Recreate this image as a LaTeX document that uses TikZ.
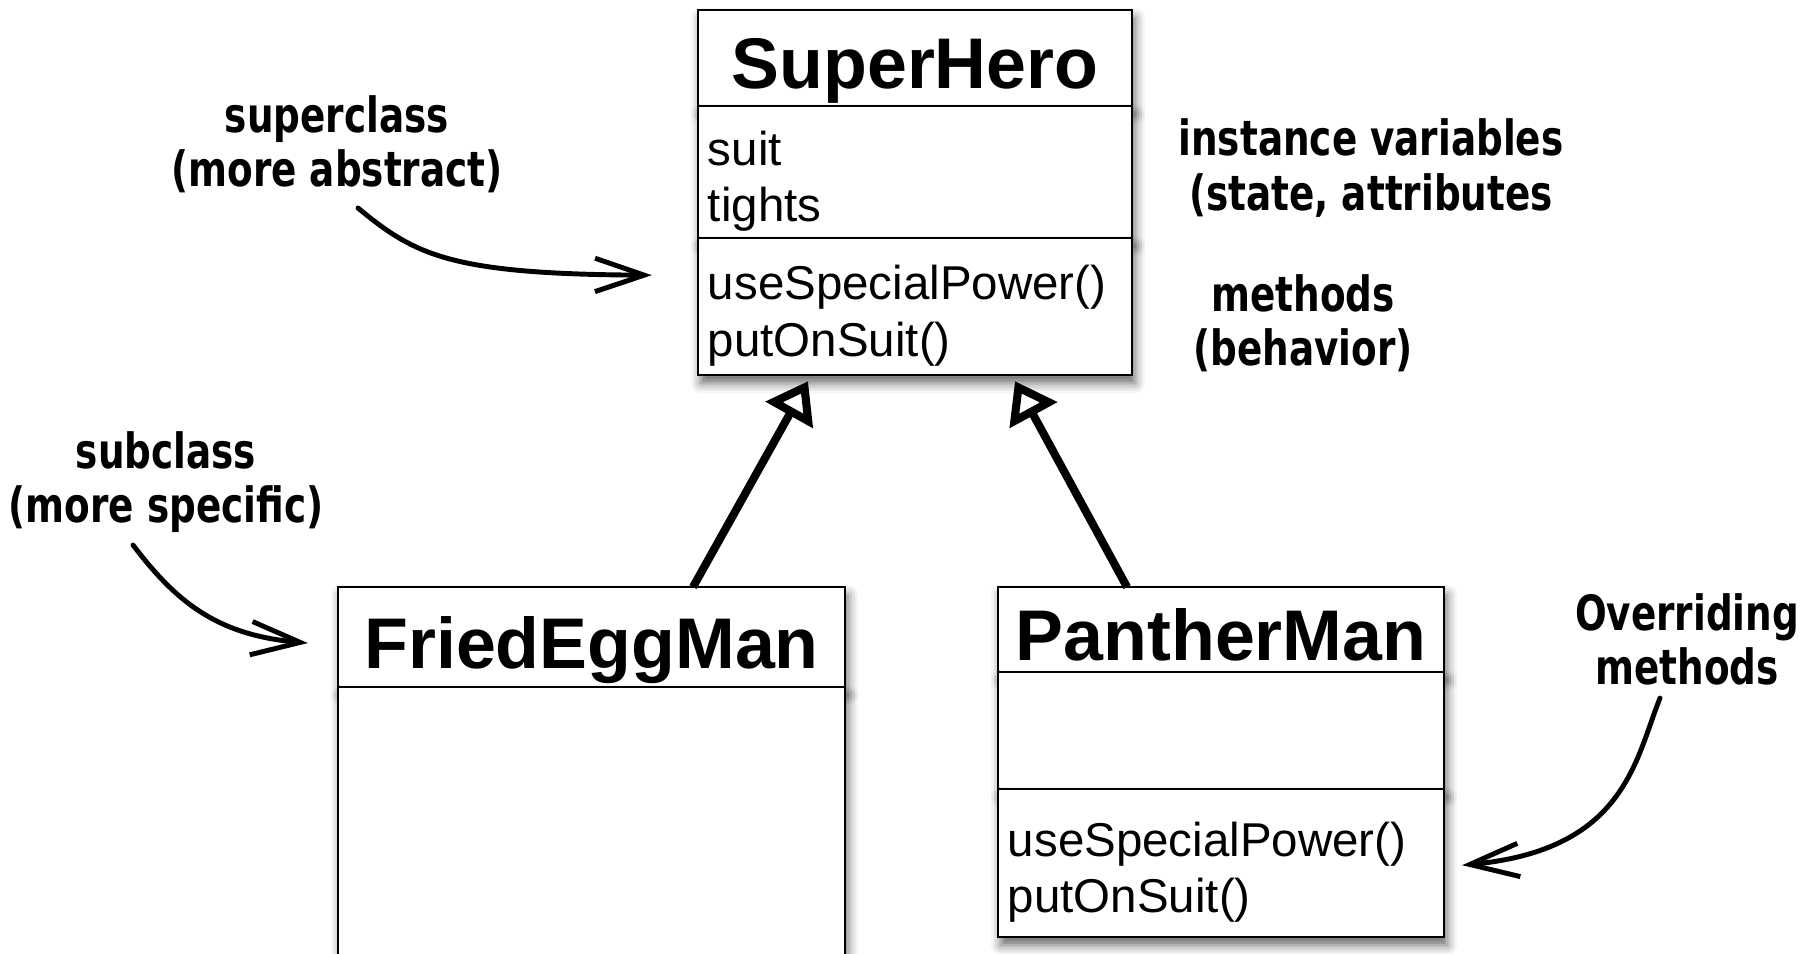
\documentclass[tikz,border=0pt]{standalone}
\usepackage{fontspec}
\usepackage{tikz}
\usetikzlibrary{arrows.meta,positioning,calc,shadows.blur}
\newfontfamily\umlfont{Liberation Sans}
\newfontfamily\handfont{DejaVu Sans}[FakeStretch=0.77]
\tikzset{
    % UML compartment
    classbox/.style={
        draw=black,
        fill=white,
        line width=0.6pt,
        inner sep=0pt,
        outer sep=0pt,
        blur shadow={shadow xshift=0.03cm, shadow yshift=-0.08cm,
            shadow blur radius=0.1cm, shadow opacity=60}
    },
    % Class name compartment
    classname/.style={
        classbox,
        align=center,
        text height=19pt,
        text depth=1.4pt,
        font=\umlfont\bfseries\fontsize{20.4}{24}\selectfont
    },
    % Attribute / operation compartment
    memberbox/.style={
        classbox,
        align=left,
        inner xsep=0.1cm,
        execute at begin node={\rule{0pt}{15pt}},
        font=\umlfont\fontsize{13.5}{16.1}\selectfont
    },
    % Handwritten remark
    remark/.style={
        align=center,
        inner sep=0pt,
        font=\handfont\bfseries\fontsize{13.8}{15.4}\selectfont
    },
    % Generalisation arrow
    inherit/.style={
        -{Triangle[fill=white, length=11pt, width=15pt]},
        line width=2.3pt,
        draw=black
    },
    % Remark arrow
    remarkarrow/.style={
        -{Straight Barb[length=14pt, width=9.5pt]},
        line width=1.4pt,
        line cap=round,
        draw=black
    }
}
\begin{document}
\begin{tikzpicture}[x=0.01cm, y=0.01cm]
    \useasboundingbox (0,0) rectangle (1816,-953);
    \clip (0,0) rectangle (1816,-953);

    % superclass
    \node[classname, anchor=north, minimum width=4.34cm, minimum height=0.96cm] (heroTitle) at (915,-10) {SuperHero};
    \node[memberbox, below=0pt of heroTitle, text width=4.14cm, minimum height=1.32cm] (heroAttr) {suit\\tights};
    \node[memberbox, below=0pt of heroAttr, text width=4.14cm, minimum height=1.37cm] (heroOps) {useSpecialPower()\\putOnSuit()};

    % subclasses
    \node[classname, anchor=north, minimum width=5.07cm, minimum height=1.0cm] (femTitle) at (591.5,-587) {FriedEggMan};
    \node[memberbox, below=0pt of femTitle, text width=4.87cm, minimum height=3.2cm] (femBody) {};

    \node[classname, anchor=north, minimum width=4.46cm, minimum height=0.85cm] (panTitle) at (1221,-587) {PantherMan};
    \node[memberbox, below=0pt of panTitle, text width=4.26cm, minimum height=1.17cm] (panAttr) {};
    \node[memberbox, below=0pt of panAttr, text width=4.26cm, minimum height=1.48cm] (panOps) {useSpecialPower()\\putOnSuit()};

    \draw[inherit] ([shift={(101.5,0)}]femTitle.north) -- ([shift={(-107,-6)}]heroOps.south);
    \draw[inherit] ([shift={(-94,0)}]panTitle.north) -- ([shift={(100,-6)}]heroOps.south);

    % remarks
    \node[remark] (lblSuper) at (337,-144) {superclass\\(more abstract)};
    \node[remark] (lblSub) at (166,-482) {subclass\\(more specific)};
    \node[remark] (lblInst) at (1371,-168) {instance variables\\(state, attributes};
    \node[remark] (lblMeth) at (1303,-323) {methods\\(behavior)};
    \node[remark] (lblOver) at (1687,-639) {Overriding\\methods};

    \draw[remarkarrow] ([shift={(21,-64)}]lblSuper.center) .. controls +(57,-47) and +(-202,1) .. ([shift={(-46,31.5)}]heroOps.west);
    \draw[remarkarrow] ([shift={(-33,-63)}]lblSub.center) .. controls +(42,-55) and +(-93,8) .. ([shift={(-30,-6)}]femTitle.west);
    \draw[remarkarrow] ([shift={(-27,-59)}]lblOver.center) .. controls +(-25,-62) and +(163,15) .. ([shift={(18,-2)}]panOps.east);
\end{tikzpicture}
\end{document}
